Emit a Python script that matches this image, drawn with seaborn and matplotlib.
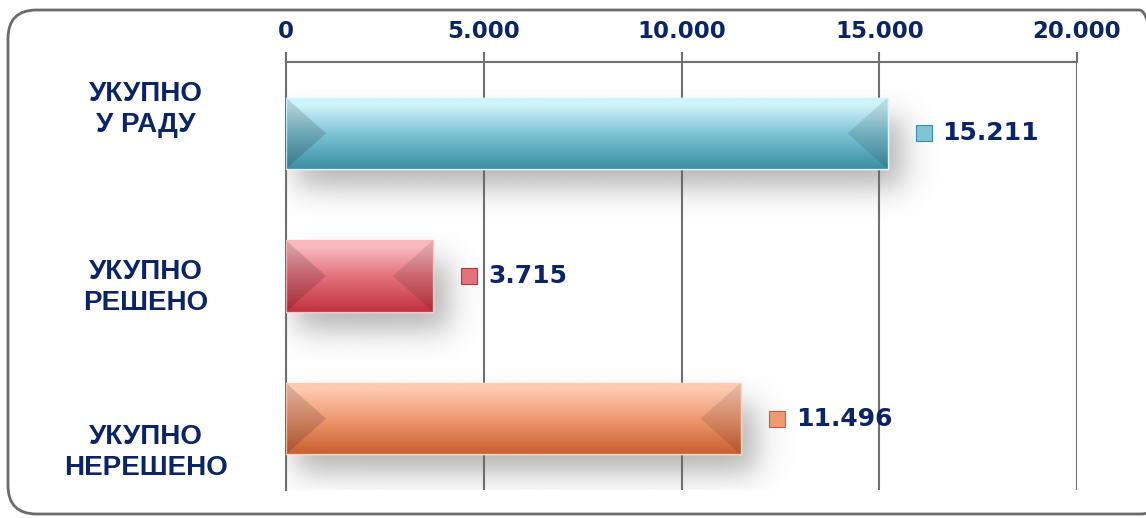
import numpy as np
import pandas as pd
import matplotlib
matplotlib.use("Agg")
import matplotlib.pyplot as plt
from matplotlib.patches import FancyBboxPatch, Polygon, Rectangle
import matplotlib.transforms as mtrans
import seaborn as sns

# data
categories = ["УКУПНО\nУ РАДУ", "УКУПНО\nРЕШЕНО", "УКУПНО\nНЕРЕШЕНО"]
values = [15211, 3715, 11496]
value_labels = ["15.211", "3.715", "11.496"]
tick_values = [0, 5000, 10000, 15000, 20000]
tick_labels = ["0", "5.000", "10.000", "15.000", "20.000"]

# bar colours: top highlight, middle, bottom
bar_colors = [("#d0f4fc", "#80c4d5", "#3a8ea3"),
              ("#f8b8bf", "#e4727c", "#c0323f"),
              ("#fdcab2", "#f09a74", "#c9602f")]
label_shift = [-0.17, 0.08, 0.24]
navy = "#0b2466"

df = pd.DataFrame({"cat": categories, "val": values})

sns.set_style("white")
fig = plt.figure(figsize=(11.46, 5.18), dpi=100)
ax = fig.add_axes([286 / 1146, 1 - 490 / 518, 791 / 1146, 428 / 518])

sns.barplot(data=df, x="val", y="cat", hue="cat", orient="h", width=0.5,
            palette=[c[1] for c in bar_colors], legend=False, ax=ax,
            zorder=3)

ax.set_xlim(0, 20000)
ax.set_ylim(2.5, -0.5)

def sig(z):
    return 1.0 / (1.0 + np.exp(-z))

# gradient fill, bevels and soft shadows on each bar
px = 20000 / 791.0
py = 3.0 / 428.0
for p, cols in zip(ax.patches, bar_colors):
    x0, y0 = p.get_x(), p.get_y()
    w, h = p.get_width(), p.get_height()
    # blurred shadow, shifted down and right
    sx0, sx1 = x0 + 10 * px, x0 + w + 16 * px
    sy0, sy1 = y0 + 22 * py, y0 + h + 18 * py
    ex0, ex1 = sx0 - 40 * px, sx1 + 40 * px
    ey0, ey1 = sy0 - 30 * py, sy1 + 30 * py
    gx = np.linspace(ex0, ex1, 300)
    gy = np.linspace(ey0, ey1, 100)
    blur = 9.0
    ax_ = sig((gx - sx0) / (blur * px)) * sig((sx1 - gx) / (blur * px))
    ay_ = sig((gy - sy0) / (blur * py)) * sig((sy1 - gy) / (blur * py))
    alpha = 0.5 * np.outer(ay_, ax_)
    shadow = np.zeros((len(gy), len(gx), 4))
    shadow[..., :3] = 0.4
    shadow[..., 3] = alpha
    ax.imshow(shadow, extent=(ex0, ex1, ey1, ey0), origin="upper",
              aspect="auto", zorder=1, interpolation="bilinear")

    n = 60
    t = np.linspace(0, 1, n)
    c_top = np.array(matplotlib.colors.to_rgb(cols[0]))
    c_mid = np.array(matplotlib.colors.to_rgb(cols[1]))
    c_bot = np.array(matplotlib.colors.to_rgb(cols[2]))
    grad = np.zeros((n, 1, 3))
    for i, ti in enumerate(t):
        if ti < 0.1:
            grad[i, 0] = c_top
        elif ti < 0.5:
            s = (ti - 0.1) / 0.4
            grad[i, 0] = c_top * (1 - s) + c_mid * s
        else:
            s = (ti - 0.5) / 0.5
            grad[i, 0] = c_mid * (1 - s) + c_bot * s
    im = ax.imshow(grad, extent=(x0, x0 + w, y0 + h, y0), origin="upper",
                   aspect="auto", zorder=4)
    im.set_clip_path(p)
    bev = min(40 * px, w / 2)
    ax.add_patch(Polygon([(x0, y0), (x0 + bev, y0 + h / 2), (x0, y0 + h)],
                         closed=True, facecolor="#000000", alpha=0.14,
                         edgecolor="none", zorder=5))
    ax.add_patch(Polygon([(x0 + w, y0), (x0 + w - bev, y0 + h / 2), (x0 + w, y0 + h)],
                         closed=True, facecolor="#000000", alpha=0.10,
                         edgecolor="none", zorder=5))
    ax.add_patch(Rectangle((x0, y0), w, h, facecolor="none",
                           edgecolor=cols[0], lw=1.0, alpha=0.8, zorder=6))

ax.set_xticks(tick_values)
ax.set_xticklabels(tick_labels)
ax.xaxis.tick_top()
ax.tick_params(axis="x", length=7, width=1.5, color="#707070", pad=7,
               labelsize=16.5, labelcolor=navy)
for lab in ax.get_xticklabels():
    lab.set_fontweight("bold")
ax.set_yticks([])
ax.set_xlabel("")
ax.set_ylabel("")
ax.grid(axis="x", color="#707070", lw=1.5, zorder=0)

for s in ["bottom", "right"]:
    ax.spines[s].set_visible(False)
for s in ["top", "left"]:
    ax.spines[s].set_color("#707070")
    ax.spines[s].set_linewidth(1.5)

# category labels
for i, (cat, sh) in enumerate(zip(categories, label_shift)):
    ax.text(-0.177, i + sh, cat, transform=ax.get_yaxis_transform(),
            ha="center", va="center", fontsize=20, fontweight="bold",
            color=navy, family=["Liberation Sans", "DejaVu Sans"],
            linespacing=1.25)

# value labels with small square marker
shift = mtrans.ScaledTranslation(36 / 100, 0, fig.dpi_scale_trans)
for i, (v, lab, cols) in enumerate(zip(values, value_labels, bar_colors)):
    ax.plot(v, i, marker="s", markersize=11, color=cols[1],
            markeredgecolor=cols[2], markeredgewidth=0.8, linestyle="none",
            transform=ax.transData + shift, clip_on=False, zorder=7)
    ax.annotate(lab, (v, i), xytext=(55, 0), textcoords="offset pixels",
                ha="left", va="center", fontsize=18, fontweight="bold",
                color=navy, zorder=7)

# rounded frame around the chart
frame = FancyBboxPatch((8 / 1146, 4 / 518), 1160 / 1146, 504 / 518,
                       boxstyle="round,pad=0,rounding_size=0.025",
                       transform=fig.transFigure, facecolor="none",
                       edgecolor="#6b6b6b", lw=2, mutation_aspect=1146 / 518)
fig.patches.append(frame)

fig.savefig("out.png", dpi=100)
